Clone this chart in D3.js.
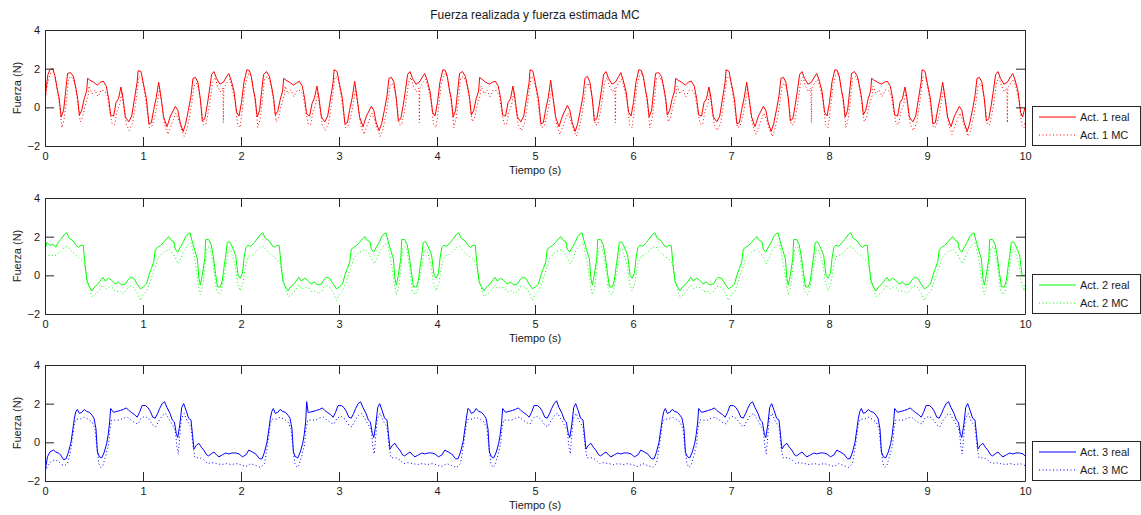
<!DOCTYPE html>
<html>
<head>
<meta charset="utf-8">
<script src="https://cdn.jsdelivr.net/npm/d3@7"></script>
<style>
  body { margin: 0; background: #fff; }
  svg text { font-family: "Liberation Sans", Arial, Helvetica, sans-serif; fill: #1a1a1a; }
</style>
</head>
<body>
<svg id="chart" width="1141" height="515"></svg>
<script>
const chartTitle = "Fuerza realizada y fuerza estimada MC";
const xLabel = "Tiempo (s)";
const yLabel = "Fuerza (N)";
const xTicks = [0, 1, 2, 3, 4, 5, 6, 7, 8, 9, 10];
const yTicks = [-2, 0, 2, 4];
const legendNames = [["Act. 1 real", "Act. 1 MC"], ["Act. 2 real", "Act. 2 MC"], ["Act. 3 real", "Act. 3 MC"]];
const colors = ["#ff0000", "#00ff00", "#0000ff"];

// [time (s), force (N)]
const act1Real = [
[0,0],[.01,.9],[.03,1.7],[.05,1.95],[.08,2],[.1,1.65],[.125,.95],[.145,.45],[.165,-.5],[.19,-.15],[.21,.8],[.23,1.75],[.26,1.8],[.29,1.6],[.315,1],[.335,.4],[.35,-.4],[.375,-.15],[.4,.45],[.425,.85],[.435,1.5],[.46,1.4],[.495,1.3],[.535,1.15],[.565,1.3],[.595,1.35],[.625,1.1],[.65,.45],[.67,-.4],[.7,-.45],[.725,.25],[.75,.45],[.775,1.05],[.795,.5],[.82,-.5],[.855,-.75],[.885,-.45],[.915,.5],[.94,1.3],[.95,1.9],[.98,1.85],[1.005,1.2],[1.035,.45],[1.06,-.85],[1.085,-.8],[1.11,-.1],[1.135,.5],[1.16,1.3],[1.185,.45],[1.21,-.5],[1.245,-1],[1.28,-.45],[1.33,.05],[1.355,-.15],[1.38,-.8],[1.41,-1.25],[1.435,-.85],[1.465,-.1],[1.49,.6],[1.51,1.5],[1.535,1.55],[1.56,1.3],[1.585,.45],[1.605,-.7],[1.63,-.6],[1.655,.1],[1.68,.95],[1.7,1.7],[1.725,1.85],[1.75,1.5],[1.785,1.2],[1.82,1.3],[1.855,1.6],[1.875,1.75],[1.9,1.4],[1.93,.8],[1.955,-.25],[1.98,-.45],
[2.005,.25],[2.03,1.3],[2.06,1.95],[2.085,1.9],[2.105,1.6],[2.125,.95],[2.145,.45],[2.165,-.5],[2.19,-.15],[2.21,.8],[2.23,1.7],[2.26,1.85],[2.29,1.6],[2.315,1],[2.335,.4],[2.35,-.4],[2.375,-.2],[2.4,.4],[2.425,.85],[2.435,1.5],[2.46,1.4],[2.495,1.3],[2.535,1.15],[2.565,1.25],[2.595,1.35],[2.625,1.1],[2.65,.45],[2.67,-.35],[2.7,-.45],[2.725,.2],[2.75,.5],[2.775,1.1],[2.795,.5],[2.82,-.5],[2.855,-.75],[2.885,-.45],[2.915,.5],[2.94,1.3],[2.95,1.95],[2.98,1.85],[3.005,1.2],[3.035,.45],[3.06,-.85],[3.085,-.8],[3.11,-.1],[3.135,.5],[3.16,1.35],[3.185,.45],[3.21,-.5],[3.245,-1],[3.28,-.45],[3.33,.05],[3.355,-.15],[3.38,-.8],[3.41,-1.2],[3.435,-.85],[3.465,-.1],[3.49,.6],[3.51,1.5],[3.535,1.55],[3.56,1.3],[3.585,.45],[3.605,-.7],[3.63,-.6],[3.655,.1],[3.68,.95],[3.7,1.7],[3.725,1.85],[3.75,1.5],[3.785,1.2],[3.82,1.3],[3.855,1.6],[3.875,1.75],[3.9,1.4],[3.93,.8],[3.955,-.25],[3.98,-.45],
[4.005,.25],[4.03,1.3],[4.06,1.95],[4.085,1.9],[4.105,1.6],[4.125,.95],[4.145,.45],[4.165,-.5],[4.19,-.15],[4.21,.8],[4.23,1.75],[4.26,1.85],[4.29,1.6],[4.315,1],[4.335,.4],[4.35,-.4],[4.375,-.15],[4.4,.45],[4.425,.85],[4.435,1.55],[4.46,1.45],[4.495,1.3],[4.535,1.2],[4.565,1.3],[4.595,1.35],[4.625,1.1],[4.65,.45],[4.67,-.4],[4.7,-.45],[4.725,.25],[4.75,.45],[4.775,1.1],[4.795,.5],[4.82,-.5],[4.855,-.75],[4.885,-.45],[4.915,.5],[4.94,1.3],[4.95,1.95],[4.98,1.85],[5.005,1.2],[5.035,.45],[5.06,-.85],[5.085,-.8],[5.11,-.1],[5.135,.5],[5.16,1.4],[5.185,.45],[5.21,-.5],[5.245,-1],[5.28,-.45],[5.33,.1],[5.355,-.15],[5.38,-.8],[5.41,-1.25],[5.435,-.85],[5.465,-.1],[5.49,.6],[5.51,1.5],[5.535,1.6],[5.56,1.3],[5.585,.45],[5.605,-.7],[5.63,-.6],[5.655,.1],[5.68,.95],[5.7,1.7],[5.725,1.85],[5.75,1.5],[5.785,1.2],[5.82,1.3],[5.855,1.6],[5.875,1.8],[5.9,1.4],[5.93,.8],[5.955,-.25],[5.98,-.45],
[6.005,.25],[6.03,1.3],[6.06,1.95],[6.085,1.9],[6.105,1.6],[6.125,.95],[6.145,.45],[6.165,-.5],[6.19,-.15],[6.21,.8],[6.23,1.75],[6.26,1.8],[6.29,1.6],[6.315,1],[6.335,.4],[6.35,-.4],[6.375,-.15],[6.4,.45],[6.425,.85],[6.435,1.5],[6.46,1.4],[6.495,1.3],[6.535,1.15],[6.565,1.3],[6.595,1.35],[6.625,1.1],[6.65,.45],[6.67,-.4],[6.7,-.45],[6.725,.25],[6.75,.45],[6.775,1.05],[6.795,.5],[6.82,-.5],[6.855,-.75],[6.885,-.45],[6.915,.5],[6.94,1.3],[6.95,1.95],[6.98,1.85],[7.005,1.2],[7.035,.45],[7.06,-.85],[7.085,-.8],[7.11,-.1],[7.135,.5],[7.16,1.3],[7.185,.45],[7.21,-.5],[7.245,-1],[7.28,-.45],[7.33,.05],[7.355,-.15],[7.38,-.8],[7.41,-1.25],[7.435,-.85],[7.465,-.1],[7.49,.6],[7.51,1.5],[7.535,1.55],[7.56,1.3],[7.585,.45],[7.605,-.7],[7.63,-.6],[7.655,.1],[7.68,.95],[7.7,1.7],[7.725,1.85],[7.75,1.5],[7.785,1.2],[7.82,1.3],[7.855,1.6],[7.875,1.75],[7.9,1.4],[7.93,.8],[7.955,-.25],[7.98,-.45],
[8.005,.25],[8.03,1.3],[8.06,1.95],[8.085,1.9],[8.105,1.6],[8.125,.95],[8.145,.45],[8.165,-.5],[8.19,-.15],[8.21,.8],[8.23,1.75],[8.26,1.85],[8.29,1.6],[8.315,1],[8.335,.4],[8.35,-.4],[8.375,-.15],[8.4,.45],[8.425,.85],[8.435,1.5],[8.46,1.4],[8.495,1.3],[8.535,1.2],[8.565,1.3],[8.595,1.35],[8.625,1.1],[8.65,.45],[8.67,-.4],[8.7,-.45],[8.725,.25],[8.75,.45],[8.775,1.05],[8.795,.5],[8.82,-.5],[8.855,-.75],[8.885,-.45],[8.915,.5],[8.94,1.3],[8.95,1.95],[8.98,1.85],[9.005,1.2],[9.035,.45],[9.06,-.85],[9.085,-.8],[9.11,-.1],[9.135,.5],[9.16,1.3],[9.185,.45],[9.21,-.5],[9.245,-1],[9.28,-.45],[9.33,.05],[9.355,-.15],[9.38,-.8],[9.41,-1.25],[9.435,-.85],[9.465,-.1],[9.49,.6],[9.51,1.5],[9.535,1.55],[9.56,1.3],[9.585,.45],[9.605,-.7],[9.63,-.6],[9.655,.1],[9.68,.95],[9.7,1.7],[9.725,1.85],[9.75,1.5],[9.785,1.2],[9.82,1.3],[9.855,1.6],[9.875,1.75],[9.9,1.4],[9.93,.8],[9.955,-.25],[9.975,-.5],[10,0]
];
const act1MC = [
[0,.5],[.03,1.3],[.06,1.8],[.09,1.85],[.11,1.4],[.135,.6],[.155,-.2],[.172,-1.05],[.195,-.6],[.22,.4],[.24,1.5],[.27,1.6],[.3,1.3],[.325,.6],[.345,-.2],[.36,-.75],[.385,-.5],[.41,.1],[.44,.6],[.45,1.1],[.48,.7],[.51,.9],[.54,.55],[.575,.9],[.61,.85],[.635,.6],[.66,-.2],[.685,-.85],[.71,-.9],[.735,-.2],[.76,.1],[.785,.8],[.8,.1],[.83,-.9],[.86,-1.2],[.895,-.8],[.925,.2],[.95,1.2],[.96,1.6],[.99,1.5],[1.015,.8],[1.04,-.1],[1.065,-1.05],[1.09,-1],[1.12,-.5],[1.145,.2],[1.17,1],[1.195,.1],[1.22,-.9],[1.255,-1.4],[1.29,-.9],[1.335,-.3],[1.36,-.6],[1.39,-1.1],[1.42,-1.5],[1.445,-1.2],[1.475,-.5],[1.5,.3],[1.52,1.1],[1.545,1.25],[1.57,.9],[1.595,0],[1.615,-.9],[1.64,-.9],[1.665,-.3],[1.69,.5],[1.71,1.3],[1.735,1.55],[1.76,1.1],[1.79,.8],[1.815,1],[1.82,-.8],[1.825,1],[1.86,1.3],[1.885,1.45],[1.91,1],[1.94,.3],[1.965,-.9],[1.99,-1.05],
[2.01,-.3],[2.04,1.1],[2.07,1.7],[2.095,1.75],[2.115,1.3],[2.135,.6],[2.155,-.2],[2.172,-1.05],[2.195,-.6],[2.22,.4],[2.24,1.5],[2.27,1.6],[2.3,1.3],[2.325,.6],[2.345,-.2],[2.36,-.75],[2.385,-.5],[2.41,.1],[2.44,.6],[2.45,1.1],[2.48,.7],[2.51,.9],[2.54,.55],[2.575,.9],[2.61,.85],[2.635,.6],[2.66,-.2],[2.685,-.85],[2.71,-.9],[2.735,-.2],[2.76,.1],[2.785,.8],[2.8,.1],[2.83,-.9],[2.86,-1.2],[2.895,-.8],[2.925,.2],[2.95,1.2],[2.96,1.6],[2.99,1.5],[3.015,.8],[3.04,-.1],[3.065,-1.05],[3.09,-1],[3.12,-.5],[3.145,.2],[3.17,1],[3.195,.1],[3.22,-.9],[3.255,-1.4],[3.29,-.9],[3.335,-.3],[3.36,-.6],[3.39,-1.1],[3.42,-1.5],[3.445,-1.2],[3.475,-.5],[3.5,.3],[3.52,1.1],[3.545,1.25],[3.57,.9],[3.595,0],[3.615,-.9],[3.64,-.9],[3.665,-.3],[3.69,.5],[3.71,1.3],[3.735,1.55],[3.76,1.1],[3.79,.8],[3.815,1],[3.82,-.8],[3.825,1],[3.86,1.3],[3.885,1.45],[3.91,1],[3.94,.3],[3.965,-.9],[3.99,-1.05],
[4.01,-.3],[4.04,1.1],[4.07,1.7],[4.095,1.75],[4.115,1.3],[4.135,.6],[4.155,-.2],[4.172,-1.05],[4.195,-.6],[4.22,.4],[4.24,1.5],[4.27,1.6],[4.3,1.3],[4.325,.6],[4.345,-.2],[4.36,-.75],[4.385,-.5],[4.41,.1],[4.44,.6],[4.45,1.1],[4.48,.7],[4.51,.9],[4.54,.55],[4.575,.9],[4.61,.85],[4.635,.6],[4.66,-.2],[4.685,-.85],[4.71,-.9],[4.735,-.2],[4.76,.1],[4.785,.8],[4.8,.1],[4.83,-.9],[4.86,-1.2],[4.895,-.8],[4.925,.2],[4.95,1.2],[4.96,1.6],[4.99,1.5],[5.015,.8],[5.04,-.1],[5.065,-1.05],[5.09,-1],[5.12,-.5],[5.145,.2],[5.17,1],[5.195,.1],[5.22,-.9],[5.255,-1.4],[5.29,-.9],[5.335,-.3],[5.36,-.6],[5.39,-1.1],[5.42,-1.5],[5.445,-1.2],[5.475,-.5],[5.5,.3],[5.52,1.1],[5.545,1.25],[5.57,.9],[5.595,0],[5.615,-.9],[5.64,-.9],[5.665,-.3],[5.69,.5],[5.71,1.3],[5.735,1.55],[5.76,1.1],[5.79,.8],[5.815,1],[5.82,-.8],[5.825,1],[5.86,1.3],[5.885,1.45],[5.91,1],[5.94,.3],[5.965,-.9],[5.99,-1.05],
[6.01,-.3],[6.04,1.1],[6.07,1.7],[6.095,1.75],[6.115,1.3],[6.135,.6],[6.155,-.2],[6.172,-1.05],[6.195,-.6],[6.22,.4],[6.24,1.5],[6.27,1.6],[6.3,1.3],[6.325,.6],[6.345,-.2],[6.36,-.75],[6.385,-.5],[6.41,.1],[6.44,.6],[6.45,1.1],[6.48,.7],[6.51,.9],[6.54,.55],[6.575,.9],[6.61,.85],[6.635,.6],[6.66,-.2],[6.685,-.85],[6.71,-.9],[6.735,-.2],[6.76,.1],[6.785,.8],[6.8,.1],[6.83,-.9],[6.86,-1.2],[6.895,-.8],[6.925,.2],[6.95,1.2],[6.96,1.6],[6.99,1.5],[7.015,.8],[7.04,-.1],[7.065,-1.05],[7.09,-1],[7.12,-.5],[7.145,.2],[7.17,1],[7.195,.1],[7.22,-.9],[7.255,-1.4],[7.29,-.9],[7.335,-.3],[7.36,-.6],[7.39,-1.1],[7.42,-1.5],[7.445,-1.2],[7.475,-.5],[7.5,.3],[7.52,1.1],[7.545,1.25],[7.57,.9],[7.595,0],[7.615,-.9],[7.64,-.9],[7.665,-.3],[7.69,.5],[7.71,1.3],[7.735,1.55],[7.76,1.1],[7.79,.8],[7.815,1],[7.82,-.8],[7.825,1],[7.86,1.3],[7.885,1.45],[7.91,1],[7.94,.3],[7.965,-.9],[7.99,-1.05],
[8.01,-.3],[8.04,1.1],[8.07,1.7],[8.095,1.75],[8.115,1.3],[8.135,.6],[8.155,-.2],[8.172,-1.05],[8.195,-.6],[8.22,.4],[8.24,1.5],[8.27,1.6],[8.3,1.3],[8.325,.6],[8.345,-.2],[8.36,-.75],[8.385,-.5],[8.41,.1],[8.44,.6],[8.45,1.1],[8.48,.7],[8.51,.9],[8.54,.55],[8.575,.9],[8.61,.85],[8.635,.6],[8.66,-.2],[8.685,-.85],[8.71,-.9],[8.735,-.2],[8.76,.1],[8.785,.8],[8.8,.1],[8.83,-.9],[8.86,-1.2],[8.895,-.8],[8.925,.2],[8.95,1.2],[8.96,1.6],[8.99,1.5],[9.015,.8],[9.04,-.1],[9.065,-1.05],[9.09,-1],[9.12,-.5],[9.145,.2],[9.17,1],[9.195,.1],[9.22,-.9],[9.255,-1.4],[9.29,-.9],[9.335,-.3],[9.36,-.6],[9.39,-1.1],[9.42,-1.5],[9.445,-1.2],[9.475,-.5],[9.5,.3],[9.52,1.1],[9.545,1.25],[9.57,.9],[9.595,0],[9.615,-.9],[9.64,-.9],[9.665,-.3],[9.69,.5],[9.71,1.3],[9.735,1.55],[9.76,1.1],[9.79,.8],[9.815,1],[9.82,-.8],[9.825,1],[9.86,1.3],[9.885,1.45],[9.91,1],[9.94,.3],[9.965,-.9],[9.99,-1.05],[10,-.7]
];
const act2Real = [
[0,1.35],[.02,1.7],[.05,1.55],[.085,1.6],[.11,1.45],[.135,1.7],[.16,1.85],[.195,2.1],[.22,2.2],[.25,1.9],[.285,1.8],[.315,1.55],[.34,1.45],[.365,1.55],[.39,1.55],[.41,.5],[.43,-.35],[.455,-.6],[.48,-.8],[.505,-.6],[.53,-.5],[.555,-.35],[.59,-.1],[.615,-.3],[.65,-.15],[.68,-.25],[.715,-.45],[.75,-.35],[.785,-.5],[.82,-.45],[.845,-.25],[.87,-.1],[.905,-.15],[.94,-.45],[.975,-.7],[1.005,-.6],[1.035,-.45],[1.06,0],[1.085,.35],[1.11,.7],[1.125,1.35],[1.15,1.45],[1.18,1.55],[1.21,1.7],[1.24,1.9],[1.265,2],[1.29,1.8],[1.315,1.75],[1.33,1.35],[1.355,1.2],[1.38,1.45],[1.41,1.7],[1.435,2],[1.46,2.15],[1.48,2.2],[1.5,1.8],[1.525,1.35],[1.555,.85],[1.57,-.15],[1.585,-.5],[1.605,0],[1.63,.85],[1.64,1.85],[1.67,1.85],[1.695,1.6],[1.715,1.05],[1.74,.1],[1.76,-.6],[1.79,-.6],[1.81,-.25],[1.825,.35],[1.845,1.05],[1.86,1.7],[1.88,1.75],[1.9,1.6],[1.92,1.35],[1.945,1.05],[1.97,0],[1.99,-.15],
[2.015,.1],[2.03,.85],[2.05,1.45],[2.07,1.55],[2.1,1.5],[2.135,1.7],[2.16,1.85],[2.195,2.1],[2.22,2.2],[2.25,1.9],[2.285,1.8],[2.315,1.55],[2.34,1.45],[2.365,1.55],[2.39,1.55],[2.41,.5],[2.43,-.35],[2.455,-.6],[2.48,-.8],[2.505,-.6],[2.53,-.5],[2.555,-.35],[2.59,-.1],[2.615,-.3],[2.65,-.15],[2.68,-.25],[2.715,-.45],[2.75,-.35],[2.785,-.5],[2.82,-.45],[2.845,-.25],[2.87,-.1],[2.905,-.15],[2.94,-.45],[2.975,-.7],[3.005,-.6],[3.035,-.45],[3.06,0],[3.085,.35],[3.11,.7],[3.125,1.35],[3.15,1.45],[3.18,1.55],[3.21,1.7],[3.24,1.9],[3.265,2],[3.29,1.8],[3.315,1.75],[3.33,1.35],[3.355,1.2],[3.38,1.45],[3.41,1.7],[3.435,2],[3.46,2.15],[3.48,2.2],[3.5,1.8],[3.525,1.35],[3.555,.85],[3.57,-.15],[3.585,-.5],[3.605,0],[3.63,.85],[3.64,1.85],[3.67,1.85],[3.695,1.6],[3.715,1.05],[3.74,.1],[3.76,-.6],[3.79,-.6],[3.81,-.25],[3.825,.35],[3.845,1.05],[3.86,1.7],[3.88,1.75],[3.9,1.6],[3.92,1.35],[3.945,1.05],[3.97,0],[3.99,-.15],
[4.015,.1],[4.03,.85],[4.05,1.45],[4.07,1.55],[4.1,1.5],[4.135,1.7],[4.16,1.85],[4.195,2.1],[4.22,2.2],[4.25,1.9],[4.285,1.8],[4.315,1.55],[4.34,1.45],[4.365,1.55],[4.39,1.55],[4.41,.5],[4.43,-.35],[4.455,-.6],[4.48,-.8],[4.505,-.6],[4.53,-.5],[4.555,-.35],[4.59,-.1],[4.615,-.3],[4.65,-.15],[4.68,-.25],[4.715,-.45],[4.75,-.35],[4.785,-.5],[4.82,-.45],[4.845,-.25],[4.87,-.1],[4.905,-.15],[4.94,-.45],[4.975,-.7],[5.005,-.6],[5.035,-.45],[5.06,0],[5.085,.35],[5.11,.7],[5.125,1.35],[5.15,1.45],[5.18,1.55],[5.21,1.7],[5.24,1.9],[5.265,2],[5.29,1.8],[5.315,1.75],[5.33,1.35],[5.355,1.2],[5.38,1.45],[5.41,1.7],[5.435,2],[5.46,2.15],[5.48,2.2],[5.5,1.8],[5.525,1.35],[5.555,.85],[5.57,-.15],[5.585,-.5],[5.605,0],[5.63,.85],[5.64,1.85],[5.67,1.85],[5.695,1.6],[5.715,1.05],[5.74,.1],[5.76,-.6],[5.79,-.6],[5.81,-.25],[5.825,.35],[5.845,1.05],[5.86,1.7],[5.88,1.75],[5.9,1.6],[5.92,1.35],[5.945,1.05],[5.97,0],[5.99,-.15],
[6.015,.1],[6.03,.85],[6.05,1.45],[6.07,1.55],[6.1,1.5],[6.135,1.7],[6.16,1.85],[6.195,2.1],[6.22,2.2],[6.25,1.9],[6.285,1.8],[6.315,1.55],[6.34,1.45],[6.365,1.55],[6.39,1.55],[6.41,.5],[6.43,-.35],[6.455,-.6],[6.48,-.8],[6.505,-.6],[6.53,-.5],[6.555,-.35],[6.59,-.1],[6.615,-.3],[6.65,-.15],[6.68,-.25],[6.715,-.45],[6.75,-.35],[6.785,-.5],[6.82,-.45],[6.845,-.25],[6.87,-.1],[6.905,-.15],[6.94,-.45],[6.975,-.7],[7.005,-.6],[7.035,-.45],[7.06,0],[7.085,.35],[7.11,.7],[7.125,1.35],[7.15,1.45],[7.18,1.55],[7.21,1.7],[7.24,1.9],[7.265,2],[7.29,1.8],[7.315,1.75],[7.33,1.35],[7.355,1.2],[7.38,1.45],[7.41,1.7],[7.435,2],[7.46,2.15],[7.48,2.2],[7.5,1.8],[7.525,1.35],[7.555,.85],[7.57,-.15],[7.585,-.5],[7.605,0],[7.63,.85],[7.64,1.85],[7.67,1.85],[7.695,1.6],[7.715,1.05],[7.74,.1],[7.76,-.6],[7.79,-.6],[7.81,-.25],[7.825,.35],[7.845,1.05],[7.86,1.7],[7.88,1.75],[7.9,1.6],[7.92,1.35],[7.945,1.05],[7.97,0],[7.99,-.15],
[8.015,.1],[8.03,.85],[8.05,1.45],[8.07,1.55],[8.1,1.5],[8.135,1.7],[8.16,1.85],[8.195,2.1],[8.22,2.2],[8.25,1.9],[8.285,1.8],[8.315,1.55],[8.34,1.45],[8.365,1.55],[8.39,1.55],[8.41,.5],[8.43,-.35],[8.455,-.6],[8.48,-.8],[8.505,-.6],[8.53,-.5],[8.555,-.35],[8.59,-.1],[8.615,-.3],[8.65,-.15],[8.68,-.25],[8.715,-.45],[8.75,-.35],[8.785,-.5],[8.82,-.45],[8.845,-.25],[8.87,-.1],[8.905,-.15],[8.94,-.45],[8.975,-.7],[9.005,-.6],[9.035,-.45],[9.06,0],[9.085,.35],[9.11,.7],[9.125,1.35],[9.15,1.45],[9.18,1.55],[9.21,1.7],[9.24,1.9],[9.265,2],[9.29,1.8],[9.315,1.75],[9.33,1.35],[9.355,1.2],[9.38,1.45],[9.41,1.7],[9.435,2],[9.46,2.15],[9.48,2.2],[9.5,1.8],[9.525,1.35],[9.555,.85],[9.57,-.15],[9.585,-.5],[9.605,0],[9.63,.85],[9.64,1.85],[9.67,1.85],[9.695,1.6],[9.715,1.05],[9.74,.1],[9.76,-.6],[9.79,-.6],[9.81,-.25],[9.825,.35],[9.845,1.05],[9.86,1.7],[9.88,1.75],[9.9,1.6],[9.92,1.35],[9.945,1.05],[9.97,0],[10,0]
];
const act2MC = [
[0,1],[.05,1.05],[.1,1],[.15,1.2],[.2,1.45],[.23,1.5],[.26,1.3],[.3,1.1],[.35,.9],[.38,.75],[.4,.6],[.43,-.2],[.46,-.8],[.48,-1.1],[.51,-1],[.55,-.8],[.59,-.5],[.62,-.7],[.65,-.6],[.69,-.65],[.72,-.85],[.76,-.8],[.79,-.95],[.82,-.85],[.85,-.6],[.88,-.55],[.91,-.65],[.94,-.9],[.975,-1.3],[1,-1],[1.04,-.8],[1.07,-.4],[1.1,.1],[1.13,.5],[1.15,.9],[1.18,1.05],[1.21,1.2],[1.25,1.3],[1.27,1.35],[1.3,1.15],[1.33,.9],[1.36,.6],[1.39,.9],[1.42,1.3],[1.46,1.55],[1.49,1.7],[1.52,1],[1.545,.3],[1.565,-.5],[1.585,-1],[1.61,-.6],[1.635,.6],[1.65,1.4],[1.68,1.5],[1.7,1.1],[1.725,.2],[1.75,-.8],[1.78,-1],[1.8,-.8],[1.825,-.1],[1.85,.6],[1.87,1.3],[1.89,1.35],[1.915,1],[1.94,.5],[1.965,-.4],[1.99,-.8],
[2.02,-.4],[2.05,.6],[2.08,1],[2.12,1.05],[2.15,1.2],[2.2,1.45],[2.23,1.5],[2.26,1.3],[2.3,1.1],[2.35,.9],[2.38,.75],[2.4,.6],[2.43,-.2],[2.46,-.8],[2.48,-1.1],[2.51,-1],[2.55,-.8],[2.59,-.5],[2.62,-.7],[2.65,-.6],[2.69,-.65],[2.72,-.85],[2.76,-.8],[2.79,-.95],[2.82,-.85],[2.85,-.6],[2.88,-.55],[2.91,-.65],[2.94,-.9],[2.975,-1.3],[3,-1],[3.04,-.8],[3.07,-.4],[3.1,.1],[3.13,.5],[3.15,.9],[3.18,1.05],[3.21,1.2],[3.25,1.3],[3.27,1.35],[3.3,1.15],[3.33,.9],[3.36,.6],[3.39,.9],[3.42,1.3],[3.46,1.55],[3.49,1.7],[3.52,1],[3.545,.3],[3.565,-.5],[3.585,-1],[3.61,-.6],[3.635,.6],[3.65,1.4],[3.68,1.5],[3.7,1.1],[3.725,.2],[3.75,-.8],[3.78,-1],[3.8,-.8],[3.825,-.1],[3.85,.6],[3.87,1.3],[3.89,1.35],[3.915,1],[3.94,.5],[3.965,-.4],[3.99,-.8],
[4.02,-.4],[4.05,.6],[4.08,1],[4.12,1.05],[4.15,1.2],[4.2,1.45],[4.23,1.5],[4.26,1.3],[4.3,1.1],[4.35,.9],[4.38,.75],[4.4,.6],[4.43,-.2],[4.46,-.8],[4.48,-1.1],[4.51,-1],[4.55,-.8],[4.59,-.5],[4.62,-.7],[4.65,-.6],[4.69,-.65],[4.72,-.85],[4.76,-.8],[4.79,-.95],[4.82,-.85],[4.85,-.6],[4.88,-.55],[4.91,-.65],[4.94,-.9],[4.975,-1.3],[5,-1],[5.04,-.8],[5.07,-.4],[5.1,.1],[5.13,.5],[5.15,.9],[5.18,1.05],[5.21,1.2],[5.25,1.3],[5.27,1.35],[5.3,1.15],[5.33,.9],[5.36,.6],[5.39,.9],[5.42,1.3],[5.46,1.55],[5.49,1.7],[5.52,1],[5.545,.3],[5.565,-.5],[5.585,-1],[5.61,-.6],[5.635,.6],[5.65,1.4],[5.68,1.5],[5.7,1.1],[5.725,.2],[5.75,-.8],[5.78,-1],[5.8,-.8],[5.825,-.1],[5.85,.6],[5.87,1.3],[5.89,1.35],[5.915,1],[5.94,.5],[5.965,-.4],[5.99,-.8],
[6.02,-.4],[6.05,.6],[6.08,1],[6.12,1.05],[6.15,1.2],[6.2,1.45],[6.23,1.5],[6.26,1.3],[6.3,1.1],[6.35,.9],[6.38,.75],[6.4,.6],[6.43,-.2],[6.46,-.8],[6.48,-1.1],[6.51,-1],[6.55,-.8],[6.59,-.5],[6.62,-.7],[6.65,-.6],[6.69,-.65],[6.72,-.85],[6.76,-.8],[6.79,-.95],[6.82,-.85],[6.85,-.6],[6.88,-.55],[6.91,-.65],[6.94,-.9],[6.975,-1.3],[7,-1],[7.04,-.8],[7.07,-.4],[7.1,.1],[7.13,.5],[7.15,.9],[7.18,1.05],[7.21,1.2],[7.25,1.3],[7.27,1.35],[7.3,1.15],[7.33,.9],[7.36,.6],[7.39,.9],[7.42,1.3],[7.46,1.55],[7.49,1.7],[7.52,1],[7.545,.3],[7.565,-.5],[7.585,-1],[7.61,-.6],[7.635,.6],[7.65,1.4],[7.68,1.5],[7.7,1.1],[7.725,.2],[7.75,-.8],[7.78,-1],[7.8,-.8],[7.825,-.1],[7.85,.6],[7.87,1.3],[7.89,1.35],[7.915,1],[7.94,.5],[7.965,-.4],[7.99,-.8],
[8.02,-.4],[8.05,.6],[8.08,1],[8.12,1.05],[8.15,1.2],[8.2,1.45],[8.23,1.5],[8.26,1.3],[8.3,1.1],[8.35,.9],[8.38,.75],[8.4,.6],[8.43,-.2],[8.46,-.8],[8.48,-1.1],[8.51,-1],[8.55,-.8],[8.59,-.5],[8.62,-.7],[8.65,-.6],[8.69,-.65],[8.72,-.85],[8.76,-.8],[8.79,-.95],[8.82,-.85],[8.85,-.6],[8.88,-.55],[8.91,-.65],[8.94,-.9],[8.975,-1.3],[9,-1],[9.04,-.8],[9.07,-.4],[9.1,.1],[9.13,.5],[9.15,.9],[9.18,1.05],[9.21,1.2],[9.25,1.3],[9.27,1.35],[9.3,1.15],[9.33,.9],[9.36,.6],[9.39,.9],[9.42,1.3],[9.46,1.55],[9.49,1.7],[9.52,1],[9.545,.3],[9.565,-.5],[9.585,-1],[9.61,-.6],[9.635,.6],[9.65,1.4],[9.68,1.5],[9.7,1.1],[9.725,.2],[9.75,-.8],[9.78,-1],[9.8,-.8],[9.825,-.1],[9.85,.6],[9.87,1.3],[9.89,1.35],[9.915,1],[9.94,.5],[9.965,-.4],[9.99,-.8],[10,-.5]
];
const act3Real = [
[0,-1.8],[.01,-1.2],[.025,-.75],[.05,-.5],[.085,-.4],[.11,-.5],[.135,-.55],[.16,-.65],[.19,-.9],[.215,-.85],[.24,-.5],[.265,0],[.285,.7],[.3,1.25],[.315,1.6],[.33,1.7],[.35,1.5],[.375,1.55],[.4,1.7],[.425,1.6],[.455,1.55],[.48,1.4],[.5,1.25],[.52,.7],[.535,-.5],[.555,-.75],[.58,-.8],[.605,-.5],[.63,-.05],[.645,.4],[.66,1.05],[.67,1.75],[.7,1.55],[.735,1.6],[.77,1.65],[.8,1.7],[.83,1.78],[.855,1.65],[.88,1.55],[.91,1.45],[.94,1.3],[.965,1.55],[.99,1.9],[1.025,1.9],[1.05,1.8],[1.075,1.6],[1.1,1.3],[1.125,1.25],[1.15,1.5],[1.17,1.75],[1.195,2],[1.22,2.1],[1.245,1.8],[1.275,1.5],[1.3,1.15],[1.32,1.05],[1.34,.45],[1.355,.25],[1.375,.9],[1.395,1.8],[1.415,2],[1.44,1.65],[1.465,1.25],[1.49,1.15],[1.505,.4],[1.52,-.35],[1.545,-.15],[1.57,-.05],[1.595,-.25],[1.62,-.4],[1.65,-.65],[1.67,-.7],[1.695,-.6],[1.725,-.5],[1.75,-.65],[1.775,-.75],[1.81,-.65],[1.845,-.55],[1.875,-.6],[1.91,-.55],[1.945,-.55],[1.98,-.6],
[2.015,-.75],[2.05,-.65],[2.08,-.4],[2.115,-.5],[2.15,-.6],[2.19,-.85],[2.215,-.85],[2.24,-.5],[2.265,0],[2.285,.7],[2.3,1.25],[2.315,1.6],[2.33,1.75],[2.35,1.5],[2.375,1.55],[2.4,1.7],[2.425,1.6],[2.455,1.55],[2.48,1.4],[2.5,1.25],[2.52,.7],[2.535,-.5],[2.555,-.75],[2.58,-.8],[2.605,-.5],[2.63,-.05],[2.645,.4],[2.66,1.05],[2.67,2.1],[2.685,1.55],[2.7,1.55],[2.735,1.6],[2.77,1.65],[2.8,1.7],[2.83,1.78],[2.855,1.65],[2.88,1.55],[2.91,1.45],[2.94,1.3],[2.965,1.55],[2.99,1.9],[3.025,1.9],[3.05,1.8],[3.075,1.6],[3.1,1.3],[3.125,1.25],[3.15,1.5],[3.17,1.75],[3.195,2],[3.22,2.1],[3.245,1.8],[3.275,1.5],[3.3,1.15],[3.32,1.05],[3.34,.45],[3.355,.25],[3.375,.9],[3.395,1.8],[3.415,2],[3.44,1.65],[3.465,1.25],[3.49,1.15],[3.505,.4],[3.52,-.35],[3.545,-.15],[3.57,-.05],[3.595,-.25],[3.62,-.4],[3.65,-.65],[3.67,-.7],[3.695,-.6],[3.725,-.5],[3.75,-.65],[3.775,-.75],[3.81,-.65],[3.845,-.55],[3.875,-.6],[3.91,-.55],[3.945,-.55],[3.98,-.6],
[4.015,-.75],[4.05,-.65],[4.08,-.4],[4.115,-.5],[4.15,-.6],[4.19,-.85],[4.215,-.85],[4.24,-.5],[4.265,0],[4.285,.7],[4.3,1.25],[4.315,1.75],[4.33,1.7],[4.35,1.5],[4.375,1.55],[4.4,1.75],[4.425,1.6],[4.455,1.55],[4.48,1.4],[4.5,1.25],[4.52,.7],[4.535,-.5],[4.555,-.75],[4.58,-.8],[4.605,-.5],[4.63,-.05],[4.645,.4],[4.66,1.05],[4.67,1.75],[4.7,1.55],[4.735,1.6],[4.77,1.65],[4.8,1.7],[4.83,1.78],[4.855,1.65],[4.88,1.55],[4.91,1.45],[4.94,1.3],[4.965,1.55],[4.99,1.9],[5.025,1.9],[5.05,1.8],[5.075,1.6],[5.1,1.3],[5.125,1.25],[5.15,1.5],[5.17,1.75],[5.195,2],[5.22,2.15],[5.245,1.8],[5.275,1.5],[5.3,1.15],[5.32,1.05],[5.34,.45],[5.355,.25],[5.375,.9],[5.395,1.8],[5.415,2],[5.44,1.65],[5.465,1.25],[5.49,1.15],[5.505,.4],[5.52,-.35],[5.545,-.15],[5.57,-.05],[5.595,-.25],[5.62,-.4],[5.65,-.65],[5.67,-.7],[5.695,-.6],[5.725,-.5],[5.75,-.65],[5.775,-.75],[5.81,-.65],[5.845,-.55],[5.875,-.6],[5.91,-.55],[5.945,-.55],[5.98,-.6],
[6.015,-.75],[6.05,-.65],[6.08,-.4],[6.115,-.5],[6.15,-.6],[6.19,-.85],[6.215,-.85],[6.24,-.5],[6.265,0],[6.285,.7],[6.3,1.25],[6.315,1.6],[6.33,1.75],[6.35,1.5],[6.375,1.55],[6.4,1.7],[6.425,1.6],[6.455,1.55],[6.48,1.4],[6.5,1.25],[6.52,.7],[6.535,-.5],[6.555,-.75],[6.58,-.8],[6.605,-.5],[6.63,-.05],[6.645,.4],[6.66,1.05],[6.67,1.75],[6.7,1.55],[6.735,1.6],[6.77,1.65],[6.8,1.7],[6.83,1.78],[6.855,1.65],[6.88,1.55],[6.91,1.45],[6.94,1.3],[6.965,1.55],[6.99,1.9],[7.025,1.9],[7.05,1.8],[7.075,1.6],[7.1,1.3],[7.125,1.25],[7.15,1.5],[7.17,1.75],[7.195,2],[7.22,2.1],[7.245,1.8],[7.275,1.5],[7.3,1.15],[7.32,1.05],[7.34,.45],[7.355,.25],[7.375,.9],[7.395,1.8],[7.415,2],[7.44,1.65],[7.465,1.25],[7.49,1.15],[7.505,.4],[7.52,-.35],[7.545,-.15],[7.57,-.05],[7.595,-.25],[7.62,-.4],[7.65,-.65],[7.67,-.7],[7.695,-.6],[7.725,-.5],[7.75,-.65],[7.775,-.75],[7.81,-.65],[7.845,-.55],[7.875,-.6],[7.91,-.55],[7.945,-.55],[7.98,-.6],
[8.015,-.75],[8.05,-.65],[8.08,-.4],[8.115,-.5],[8.15,-.6],[8.19,-.85],[8.215,-.85],[8.24,-.5],[8.265,0],[8.285,.7],[8.3,1.25],[8.315,1.6],[8.33,1.75],[8.35,1.5],[8.375,1.55],[8.4,1.7],[8.425,1.6],[8.455,1.55],[8.48,1.4],[8.5,1.25],[8.52,.7],[8.535,-.5],[8.555,-.75],[8.58,-.8],[8.605,-.5],[8.63,-.05],[8.645,.4],[8.66,1.05],[8.67,1.75],[8.7,1.55],[8.735,1.6],[8.77,1.65],[8.8,1.7],[8.83,1.78],[8.855,1.65],[8.88,1.55],[8.91,1.45],[8.94,1.3],[8.965,1.55],[8.99,1.9],[9.025,1.9],[9.05,1.8],[9.075,1.6],[9.1,1.3],[9.125,1.25],[9.15,1.5],[9.17,1.75],[9.195,2],[9.22,2.1],[9.245,1.8],[9.275,1.5],[9.3,1.15],[9.32,1.05],[9.34,.45],[9.355,.25],[9.375,.9],[9.395,1.8],[9.415,2],[9.44,1.65],[9.465,1.25],[9.49,1.15],[9.505,.4],[9.52,-.35],[9.545,-.15],[9.57,-.05],[9.595,-.25],[9.62,-.4],[9.65,-.65],[9.67,-.7],[9.695,-.6],[9.725,-.5],[9.75,-.65],[9.775,-.75],[9.81,-.65],[9.845,-.55],[9.875,-.6],[9.91,-.55],[9.945,-.55],[9.98,-.6],[10,-.7]
];
const act3MC = [
[0,-1.5],[.03,-1.2],[.06,-1],[.1,-.9],[.14,-1],[.17,-1.15],[.2,-1.2],[.23,-1.1],[.26,-.5],[.28,.2],[.3,1],[.32,1.2],[.36,1.2],[.4,1.3],[.44,1.2],[.48,1.05],[.51,.7],[.53,-.3],[.55,-1.1],[.57,-1.3],[.59,-1.2],[.62,-.7],[.65,-.1],[.66,.6],[.68,1.15],[.72,1.15],[.76,1.15],[.8,1.25],[.84,1.3],[.88,1.15],[.92,1],[.95,.95],[.98,1.25],[1.02,1.35],[1.06,1.2],[1.1,.9],[1.13,.8],[1.16,1.1],[1.2,1.4],[1.23,1.5],[1.26,1.25],[1.3,.9],[1.33,.6],[1.345,-.2],[1.36,-.6],[1.375,.3],[1.39,1.2],[1.42,1.5],[1.45,1.1],[1.49,.8],[1.51,-.2],[1.53,-.8],[1.58,-.8],[1.62,-.9],[1.66,-1.1],[1.7,-1.05],[1.75,-1.1],[1.8,-1.15],[1.85,-1.1],[1.9,-1.15],[1.95,-1.1],[1.99,-1.15],
[2.02,-1.2],[2.05,-1.25],[2.1,-1.1],[2.15,-1.2],[2.2,-1.3],[2.24,-1.1],[2.26,-.5],[2.28,.2],[2.3,1],[2.32,1.2],[2.36,1.2],[2.4,1.3],[2.44,1.2],[2.48,1.05],[2.51,.7],[2.53,-.3],[2.55,-1.1],[2.57,-1.3],[2.59,-1.2],[2.62,-.7],[2.65,-.1],[2.66,.6],[2.68,1.15],[2.72,1.15],[2.76,1.15],[2.8,1.25],[2.84,1.3],[2.88,1.15],[2.92,1],[2.95,.95],[2.98,1.25],[3.02,1.35],[3.06,1.2],[3.1,.9],[3.13,.8],[3.16,1.1],[3.2,1.4],[3.23,1.5],[3.26,1.25],[3.3,.9],[3.33,.6],[3.345,-.2],[3.36,-.6],[3.375,.3],[3.39,1.2],[3.42,1.5],[3.45,1.1],[3.49,.8],[3.51,-.2],[3.53,-.8],[3.58,-.8],[3.62,-.9],[3.66,-1.1],[3.7,-1.05],[3.75,-1.1],[3.8,-1.15],[3.85,-1.1],[3.9,-1.15],[3.95,-1.1],[3.99,-1.15],
[4.02,-1.2],[4.05,-1.25],[4.1,-1.1],[4.15,-1.2],[4.2,-1.3],[4.24,-1.1],[4.26,-.5],[4.28,.2],[4.3,1],[4.32,1.2],[4.36,1.2],[4.4,1.3],[4.44,1.2],[4.48,1.05],[4.51,.7],[4.53,-.3],[4.55,-1.1],[4.57,-1.3],[4.59,-1.2],[4.62,-.7],[4.65,-.1],[4.66,.6],[4.68,1.15],[4.72,1.15],[4.76,1.15],[4.8,1.25],[4.84,1.3],[4.88,1.15],[4.92,1],[4.95,.95],[4.98,1.25],[5.02,1.35],[5.06,1.2],[5.1,.9],[5.13,.8],[5.16,1.1],[5.2,1.4],[5.23,1.5],[5.26,1.25],[5.3,.9],[5.33,.6],[5.345,-.2],[5.36,-.6],[5.375,.3],[5.39,1.2],[5.42,1.5],[5.45,1.1],[5.49,.8],[5.51,-.2],[5.53,-.8],[5.58,-.8],[5.62,-.9],[5.66,-1.1],[5.7,-1.05],[5.75,-1.1],[5.8,-1.15],[5.85,-1.1],[5.9,-1.15],[5.95,-1.1],[5.99,-1.15],
[6.02,-1.2],[6.05,-1.25],[6.1,-1.1],[6.15,-1.2],[6.2,-1.3],[6.24,-1.1],[6.26,-.5],[6.28,.2],[6.3,1],[6.32,1.2],[6.36,1.2],[6.4,1.3],[6.44,1.2],[6.48,1.05],[6.51,.7],[6.53,-.3],[6.55,-1.1],[6.57,-1.3],[6.59,-1.2],[6.62,-.7],[6.65,-.1],[6.66,.6],[6.68,1.15],[6.72,1.15],[6.76,1.15],[6.8,1.25],[6.84,1.3],[6.88,1.15],[6.92,1],[6.95,.95],[6.98,1.25],[7.02,1.35],[7.06,1.2],[7.1,.9],[7.13,.8],[7.16,1.1],[7.2,1.4],[7.23,1.5],[7.26,1.25],[7.3,.9],[7.33,.6],[7.345,-.2],[7.36,-.6],[7.375,.3],[7.39,1.2],[7.42,1.5],[7.45,1.1],[7.49,.8],[7.51,-.2],[7.53,-.8],[7.58,-.8],[7.62,-.9],[7.66,-1.1],[7.7,-1.05],[7.75,-1.1],[7.8,-1.15],[7.85,-1.1],[7.9,-1.15],[7.95,-1.1],[7.99,-1.15],
[8.02,-1.2],[8.05,-1.25],[8.1,-1.1],[8.15,-1.2],[8.2,-1.3],[8.24,-1.1],[8.26,-.5],[8.28,.2],[8.3,1],[8.32,1.2],[8.36,1.2],[8.4,1.3],[8.44,1.2],[8.48,1.05],[8.51,.7],[8.53,-.3],[8.55,-1.1],[8.57,-1.3],[8.59,-1.2],[8.62,-.7],[8.65,-.1],[8.66,.6],[8.68,1.15],[8.72,1.15],[8.76,1.15],[8.8,1.25],[8.84,1.3],[8.88,1.15],[8.92,1],[8.95,.95],[8.98,1.25],[9.02,1.35],[9.06,1.2],[9.1,.9],[9.13,.8],[9.16,1.1],[9.2,1.4],[9.23,1.5],[9.26,1.25],[9.3,.9],[9.33,.6],[9.345,-.2],[9.36,-.6],[9.375,.3],[9.39,1.2],[9.42,1.5],[9.45,1.1],[9.49,.8],[9.51,-.2],[9.53,-.8],[9.58,-.8],[9.62,-.9],[9.66,-1.1],[9.7,-1.05],[9.75,-1.1],[9.8,-1.15],[9.85,-1.1],[9.9,-1.15],[9.95,-1.1],[10,-1.2]
];

const panels = [
  { real: act1Real, mc: act1MC },
  { real: act2Real, mc: act2MC },
  { real: act3Real, mc: act3MC }
];

const svg = d3.select("#chart");
const left = 45, right = 1025, plotH = 116;
const tops = [30, 198, 365];
const tickLen = 9;
const axisColor = "#262626";

const x = d3.scaleLinear().domain([0, 10]).range([left, right]);

svg.append("text")
  .attr("x", (left + right) / 2)
  .attr("y", 19)
  .attr("text-anchor", "middle")
  .style("font-size", "12px")
  .text(chartTitle);

panels.forEach((p, i) => {
  const top = tops[i];
  const bottom = top + plotH;
  const y = d3.scaleLinear().domain([-2, 4]).range([bottom, top]);
  const color = colors[i];
  const g = svg.append("g");

  g.append("clipPath").attr("id", "clip" + i)
    .append("rect").attr("x", left).attr("y", top).attr("width", right - left).attr("height", plotH);

  const line = d3.line().x(d => x(d[0])).y(d => y(d[1]));

  const lines = g.append("g").attr("clip-path", `url(#clip${i})`);
  lines.append("path").datum(p.mc)
    .attr("d", line).attr("fill", "none").attr("stroke", color)
    .attr("stroke-width", 1).attr("stroke-dasharray", "1,2.5");
  lines.append("path").datum(p.real)
    .attr("d", line).attr("fill", "none").attr("stroke", color)
    .attr("stroke-width", 1).attr("stroke-linejoin", "round");

  // axes with inward ticks on all four sides
  const bottomAxis = g.append("g").attr("transform", `translate(0,${bottom})`)
    .call(d3.axisBottom(x).tickValues(xTicks).tickSize(-tickLen).tickSizeOuter(0).tickPadding(6).tickFormat(d3.format("d")));
  const topAxis = g.append("g").attr("transform", `translate(0,${top})`)
    .call(d3.axisTop(x).tickValues(xTicks).tickSize(-tickLen).tickSizeOuter(0).tickFormat(""));
  const leftAxis = g.append("g").attr("transform", `translate(${left},0)`)
    .call(d3.axisLeft(y).tickValues(yTicks).tickSize(-tickLen).tickSizeOuter(0).tickPadding(5).tickFormat(d3.format("d")));
  const rightAxis = g.append("g").attr("transform", `translate(${right},0)`)
    .call(d3.axisRight(y).tickValues(yTicks).tickSize(-tickLen).tickSizeOuter(0).tickFormat(""));

  [bottomAxis, topAxis, leftAxis, rightAxis].forEach(a => {
    a.selectAll("path.domain").attr("stroke", axisColor);
    a.selectAll(".tick line").attr("stroke", axisColor);
    a.selectAll("text").style("font-size", "11px").attr("fill", "#1a1a1a")
      .style("font-family", "'Liberation Sans', Arial, sans-serif");
  });

  g.append("text")
    .attr("x", (left + right) / 2)
    .attr("y", bottom + 28)
    .attr("text-anchor", "middle")
    .style("font-size", "11px")
    .text(xLabel);

  g.append("text")
    .attr("transform", `translate(21,${(top + bottom) / 2}) rotate(-90)`)
    .attr("text-anchor", "middle")
    .style("font-size", "11px")
    .text(yLabel);

  // legend
  const lg = g.append("g").attr("transform", `translate(1032,${bottom - 40})`);
  lg.append("rect")
    .attr("x", 0.5).attr("y", 0.5).attr("width", 108).attr("height", 39)
    .attr("fill", "#fff").attr("stroke", axisColor);
  legendNames[i].forEach((name, j) => {
    const ly = 11 + j * 18;
    lg.append("line")
      .attr("x1", 7).attr("x2", 44).attr("y1", ly).attr("y2", ly)
      .attr("stroke", color).attr("stroke-width", 1)
      .attr("stroke-dasharray", j === 1 ? "1,2.5" : null);
    lg.append("text")
      .attr("x", 48).attr("y", ly + 4)
      .style("font-size", "11px")
      .text(name);
  });
});
</script>
</body>
</html>
